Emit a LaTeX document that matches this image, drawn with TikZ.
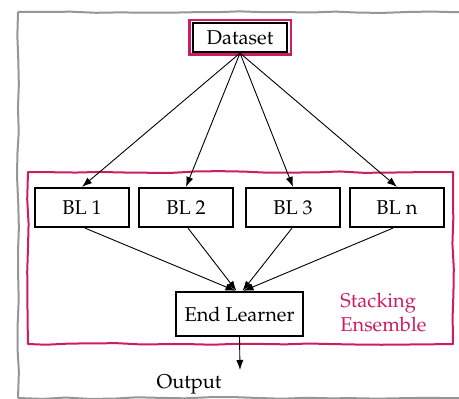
\documentclass[tikz,border=0pt]{standalone}
\usepackage[T1]{fontenc}
\usepackage{mathpazo}
\usetikzlibrary{arrows.meta,decorations.pathmorphing,calc}
\definecolor{ensemblepink}{RGB}{204,28,98}
\definecolor{framegray}{RGB}{150,150,150}
\begin{document}
\begin{tikzpicture}[x=0.5pt,y=-0.5pt,
  box/.style={draw=black,line width=1.1pt,fill=white,inner sep=0pt,
    font=\fontsize{10}{12}\selectfont},
  blbox/.style={box,minimum width=47pt,minimum height=19.5pt},
  feed/.style={-{Latex[length=5pt,width=3.6pt]},line width=0.45pt},
  sketch/.style={decorate,decoration={random steps,segment length=12pt,amplitude=0.45pt},
    line join=round},
  label/.style={font=\fontsize{10}{12}\selectfont,inner sep=0pt}]
\pgfmathsetseed{7}
\useasboundingbox (0,0) rectangle (459,399);

% outer hand-drawn frame
\begin{scope}
  \clip (0,0) rectangle (459,399);
  \draw[framegray,line width=1pt,sketch] (480,12) -- (18,12);
  \draw[framegray,line width=1pt,sketch] (18,12) -- (18,398);
  \draw[framegray,line width=1pt,sketch] (18,398) -- (480,398);
\end{scope}

% stacking ensemble frame
\draw[ensemblepink,line width=1pt,sketch]
  (28,172) -- (453,172) -- (453,344) -- (28,344) -- cycle;
\node[label,ensemblepink,align=left,anchor=west] (ens) at (340,312)
  {Stacking\\Ensemble};

% data source
\node[box,minimum width=47pt,minimum height=14.5pt] (ds) at (240,37.5) {Dataset};
\draw[ensemblepink,line width=1.1pt]
  ($(ds.south west)+(-2.5,1.5)$) rectangle ($(ds.north east)+(2.5,-1.5)$);

% base learners
\node[blbox] (bl1) at (82,207.5) {BL 1};
\node[blbox] (bl2) at (186,207.5) {BL 2};
\node[blbox] (bl3) at (293,207.5) {BL 3};
\node[blbox] (bln) at (397,207.5) {BL n};

% meta learner
\node[box,minimum width=63.5pt,minimum height=22pt] (el) at (239.5,314) {End Learner};

% output
\coordinate (out) at (240,370);
\node[label] (outlbl) at (189,384) {Output};

% connectors
\foreach \b in {bl1,bl2,bl3,bln}
  \draw[feed] (ds.south) -- (\b.north);
\draw[feed] ($(bl1.south)+(3,0)$) -- ($(el.north)+(-4,0)$);
\draw[feed] ($(bl2.south)+(2,0)$) -- ($(el.north)+(-3,0)$);
\draw[feed] ($(bl3.south)+(-1,0)$) -- ($(el.north)+(3,0)$);
\draw[feed] ($(bln.south)+(-4,0)$) -- ($(el.north)+(4,0)$);
\draw[feed] (el.south) -- (out);
\end{tikzpicture}
\end{document}
